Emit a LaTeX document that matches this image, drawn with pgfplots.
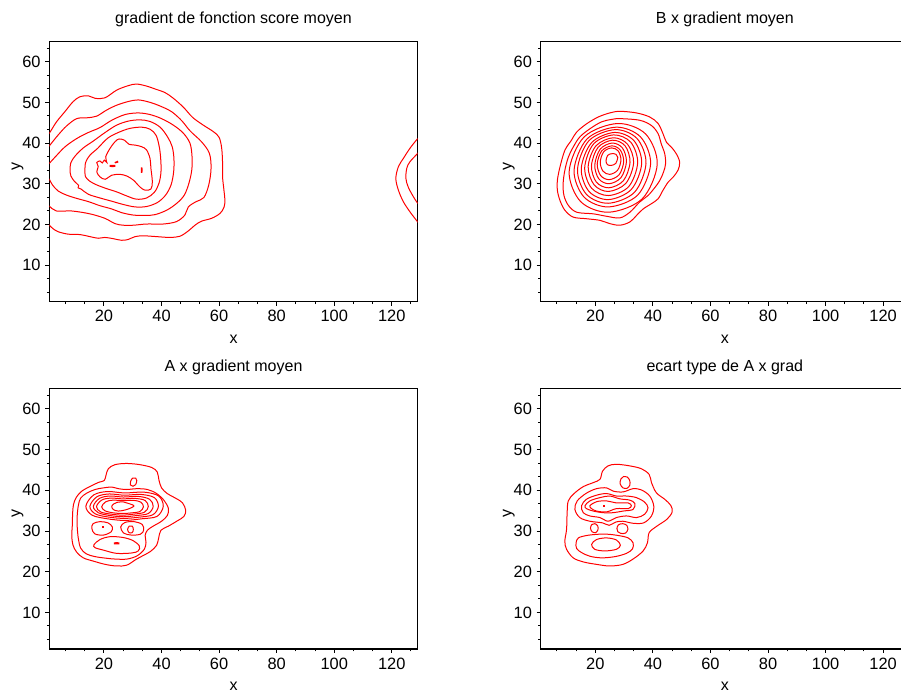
\documentclass[border=0pt]{standalone}
\usepackage{fontspec}
\setmainfont{Liberation Sans}
\usepackage{pgfplots}
\pgfplotsset{compat=1.18}

\pgfplotsset{
  every axis title/.style={at={(axis description cs:0.5,1.0666)}, anchor=base},
  panel/.style={
    scale only axis, width=276.3pt, height=195.3pt,
    anchor=south west,
    xmin=1, xmax=129, ymin=1, ymax=65,
    xtick={20,40,...,120}, ytick={10,20,...,60},
    minor xtick={6.667,13.333,26.667,33.333,46.667,53.333,66.667,73.333,86.667,93.333,106.667,113.333,126.667},
    minor ytick={3.333,6.667,13.333,16.667,23.333,26.667,33.333,36.667,43.333,46.667,53.333,56.667,63.333},
    tick pos=left, tick align=outside,
    major tick length=3pt, minor tick length=1.8pt,
    tick style={black, line width=0.75pt},
    axis line style={black, line width=0.85pt},
    /pgf/number format/assume math mode=true,
    ticklabel style={font=\fontsize{12.3}{14}\selectfont},
    xlabel={x}, ylabel={y},
    xlabel style={at={(axis description cs:0.5,-0.1434)}, anchor=center},
    ylabel style={at={(axis description cs:-0.0863,0.521)}, anchor=center},
    clip=true,
  },
  cl/.style={red, line width=0.75pt, smooth, tension=0.55},
  cc/.style={red, line width=0.75pt, smooth cycle, tension=0.55},
}

\begin{document}
\begin{tikzpicture}[font=\fontsize{12}{14}\selectfont]
\useasboundingbox (0,0) rectangle (675.75pt,523.5pt);

% ---------------- gradient de fonction score moyen ----------------
\begin{axis}[panel, at={(36.98pt,297.2pt)}, title={gradient de fonction score moyen}]
\addplot[cl] coordinates {(-0.5,41.0) (1,42.4) (3.5,45.2) (6.4,47.7) (9.3,50.2) (11.7,51.4) (14.6,51.6) (16.9,51.0) (20.3,51.1) (24.4,53.0) (28.4,54.1) (31.3,54.5) (34.8,54.0) (37.7,53.3) (41.2,52.4) (44.1,51.0) (47.6,48.8) (50.8,46.3) (54.5,44.4) (58.0,42.8) (60.0,41.4) (60.9,38.7) (61.2,35.0) (61.2,31.7) (61.6,28.9) (62.0,26.0) (61.7,24.2) (60.3,22.7) (57.4,21.5) (53.9,20.8) (51.6,19.8) (49.3,18.4) (46.4,17.1) (42.9,16.8) (38.3,17.0) (33.7,17.2) (30.8,17.0) (28.4,16.3) (26.1,16.1) (23.2,16.5) (20.3,16.8) (18.0,16.6) (15.1,17.0) (11.7,17.5) (7.6,17.6) (4.1,18.2) (2.4,18.9) (1,19.8) (-0.5,20.8)};
\addplot[cl] coordinates {(-0.5,38.0) (1,39.3) (4.1,42.0) (7.0,44.2) (10.5,46.0) (14.0,46.2) (17.4,46.6) (20.9,48.1) (24.4,49.3) (28.4,50.2) (31.9,50.6) (36.0,50.0) (39.5,49.1) (43.5,47.7) (47.0,45.5) (49.9,43.0) (53.9,40.3) (56.6,37.5) (57.2,33.8) (56.4,29.7) (54.7,26.6) (52.0,25.6) (49.3,24.3) (48.1,22.3) (45.2,20.7) (40.6,20.1) (34.8,20.1) (30.2,19.8) (26.7,19.8) (23.8,20.2) (20.3,21.5) (15.1,22.6) (8.8,23.3) (3.5,23.3) (1,24.5) (-0.5,25.5)};
\addplot[cl] coordinates {(-0.5,33.8) (1,35.0) (3.6,37.0) (6.5,39.1) (10.5,41.1) (14.6,42.6) (18.6,43.8) (22.7,45.6) (27.3,47.0) (31.9,47.4) (36.0,47.0) (40.0,46.0) (44.1,44.4) (47.6,42.4) (49.9,39.9) (50.6,36.6) (50.5,33.4) (49.5,30.1) (47.9,27.2) (45.3,25.2) (41.8,23.5) (37.7,22.4) (34.3,22.2) (30.2,22.3) (26.1,22.9) (22.7,23.8) (18.6,24.6) (14.6,25.6) (10.5,26.4) (7.0,27.2) (4.1,28.2) (2.1,29.7) (1,31.1) (-0.5,32.5)};
\addplot[cc] coordinates {(8.2,32.9) (8.5,35.2) (10.2,37.0) (12.8,38.8) (16.3,40.5) (20.4,42.6) (24.4,44.4) (28.5,45.4) (32.5,45.7) (36.0,45.3) (39.5,43.9) (42.1,41.5) (43.7,39.1) (44.3,36.2) (44.2,32.9) (43.3,29.7) (41.4,27.2) (38.6,25.4) (34.8,24.4) (30.8,24.3) (26.7,24.9) (22.7,25.7) (18.6,26.5) (14.6,27.4) (12.0,28.7) (11.0,29.0) (11.2,29.6) (9.7,30.6) (8.5,31.9)};
\addplot[cc] coordinates {(13.4,32.9) (13.6,35.2) (15.1,37.0) (17.8,38.7) (21.3,41.2) (25.0,42.6) (29.0,43.6) (33.1,43.9) (36.0,43.4) (38.1,41.9) (39.2,39.1) (39.7,36.2) (39.8,32.9) (39.1,30.1) (37.5,27.9) (34.8,26.5) (31.3,26.2) (27.9,27.0) (24.4,28.0) (20.9,28.8) (17.5,29.7) (15.1,30.6) (13.6,31.7)};
\addplot[cc] coordinates {(18.6,31.7) (17.5,32.9) (18.0,34.2) (17.5,35.2) (18.6,35.6) (19.4,35.1) (20.1,35.8) (21.0,35.2) (20.6,36.6) (22.1,38.7) (23.8,40.3) (25.2,41.0) (27.1,40.7) (28.7,39.7) (30.8,39.5) (33.1,39.1) (34.8,38.3) (36.0,36.2) (36.3,33.8) (36.8,30.5) (36.3,28.7) (34.3,28.4) (32.5,29.2) (30.2,30.9) (27.9,31.9) (25.6,32.3) (22.7,32.1) (20.4,31.1)};
\addplot[cc] coordinates {(22.1,34.5) (23.8,34.5) (23.8,34.25) (22.1,34.25)};
\addplot[cc] coordinates {(23.9,35.25) (24.7,35.5) (24.8,35.3) (24.0,35.15)};
\addplot[cc] coordinates {(33.0,33.9) (33.2,33.9) (33.2,32.8) (33.0,32.8)};
\addplot[cl] coordinates {(131,42.5) (129,41.1) (126.3,38.7) (124.0,36.2) (122.3,34.2) (121.4,31.3) (122.3,28.4) (124.0,25.6) (126.3,23.1) (129,20.6) (131,18.8)};
\addplot[cl] coordinates {(131,39.5) (129,37.5) (126.3,35.4) (125.2,33.8) (124.9,31.3) (125.7,29.2) (127.5,26.8) (129,25.2) (131,23.5)};
\end{axis}

% ---------------- B x gradient moyen ----------------
\begin{axis}[panel, at={(405.5pt,297.2pt)}, title={B x gradient moyen}]
\addplot[cc] coordinates {(28.5,47.8) (34.3,47.4) (38.9,46.4) (41.8,44.8) (43.5,42.3) (44.7,40.2) (46.4,39.0) (48.1,37.4) (49.3,35.3) (48.7,33.3) (47.0,31.6) (45.3,30.4) (43.5,28.4) (41.8,26.3) (39.5,25.1) (36.6,23.8) (34.3,22.2) (32.0,20.6) (28.5,19.8) (25.0,20.2) (21.6,21.0) (16.9,21.4) (12.3,21.8) (9.4,23.5) (7.7,25.9) (6.8,28.4) (6.8,30.8) (7.7,34.1) (9.4,38.2) (11.7,40.7) (13.5,42.7) (16.9,44.7) (21.0,46.4) (25.0,47.4)};
\addplot[cc] coordinates {(28.5,46.0) (35.4,45.6) (39.5,44.3) (41.8,42.3) (42.9,39.8) (44.1,37.4) (44.4,34.9) (43.7,32.9) (42.4,30.8) (40.6,29.0) (38.3,27.1) (35.4,25.5) (32.0,23.0) (28.5,21.6) (23.9,22.0) (19.3,22.6) (13.5,23.0) (10.6,24.7) (9.1,27.1) (8.8,30.0) (9.4,33.3) (10.6,36.5) (12.3,39.0) (14.6,41.5) (18.1,43.5) (22.1,45.2) (25.6,45.8)};
\addplot[cc] coordinates {(41.5,34.8) (37.5,42.2) (27.7,44.8) (16.1,41.5) (10.9,33.0) (14.9,25.6) (24.7,23.0) (36.3,26.3)};
\addplot[cc] coordinates {(39.2,34.9) (35.7,41.5) (27.2,43.9) (17.1,41.0) (12.6,33.3) (16.1,26.7) (24.6,24.3) (34.7,27.2)};
\addplot[cc] coordinates {(37.6,35.0) (34.5,41.1) (26.9,43.3) (17.8,40.6) (13.8,33.5) (16.9,27.4) (24.5,25.2) (33.6,27.9)};
\addplot[cc] coordinates {(36.1,35.0) (33.4,40.6) (26.65,42.6) (18.7,40.1) (15.1,33.7) (17.8,28.1) (24.55,26.1) (32.5,28.6)};
\addplot[cc] coordinates {(34.7,35.15) (32.3,40.2) (26.4,42.0) (19.4,39.8) (16.3,33.95) (18.7,28.9) (24.6,27.1) (31.6,29.3)};
\addplot[cc] coordinates {(33.3,35.2) (31.2,39.7) (26.2,41.3) (20.2,39.3) (17.5,34.2) (19.6,29.7) (24.6,28.1) (30.6,30.1)};
\addplot[cc] coordinates {(32.05,35.3) (30.35,39.3) (26.0,40.7) (20.95,38.95) (18.65,34.4) (20.35,30.4) (24.7,29.0) (29.75,30.75)};
\addplot[cc] coordinates {(30.8,35.4) (29.4,38.8) (25.85,40.0) (21.7,38.5) (19.8,34.6) (21.2,31.2) (24.75,30.0) (28.9,31.5)};
\addplot[cc] coordinates {(29.85,35.5) (28.65,38.3) (25.7,39.3) (22.2,38.05) (20.65,34.8) (21.85,32.0) (24.8,31.0) (28.3,32.25)};
\addplot[cc] coordinates {(28.9,35.8) (27.95,38.05) (25.65,38.8) (22.9,37.85) (21.7,35.3) (22.65,33.1) (24.95,32.3) (27.7,33.3)};
\addplot[cc] coordinates {(27.8,36.5) (27.2,37.2) (25.9,37.4) (24.3,37.0) (23.7,35.6) (24.2,34.7) (25.5,34.5) (27.1,35.0)};
\end{axis}

% ---------------- A x gradient moyen ----------------
\begin{axis}[panel, at={(36.98pt,36.75pt)}, title={A x gradient moyen}]
\addplot[cc] coordinates {(20.7,43.7) (21.5,45.3) (23.8,46.3) (27.9,46.6) (32.5,46.3) (36.6,45.6) (38.5,44.5) (39.1,42.5) (40.0,40.6) (42.0,39.2) (45.3,37.9) (47.3,36.9) (48.4,35.1) (47.8,33.6) (45.5,32.5) (42.4,31.2) (39.8,30.2) (39.0,28.3) (38.3,26.5) (36.2,25.0) (33.7,24.0) (31.1,23.0) (27.9,21.6) (24.4,21.4) (20.4,21.8) (16.3,22.6) (12.8,23.4) (10.5,24.8) (9.2,26.6) (8.8,28.9) (9.0,31.4) (9.1,34.3) (9.4,36.5) (10.4,38.3) (12.3,39.8) (15.3,41.0) (18.3,42.0) (20.1,42.4)};
\addplot[cc] coordinates {(11.9,38.1) (14.0,39.3) (16.9,40.2) (19.8,40.6) (22.7,40.8) (25.0,40.4) (27.9,40.2) (31.4,40.4) (35.1,40.2) (38.3,39.2) (40.9,37.5) (42.4,35.5) (42.0,33.8) (40.0,32.4) (37.1,31.2) (35.1,30.2) (34.3,28.9) (34.6,27.2) (34.0,25.5) (31.5,23.9) (28.0,23.1) (24.0,23.1) (20.9,23.3) (16.9,23.7) (13.8,24.4) (11.9,25.8) (11.1,28.1) (10.7,31.0) (10.7,33.8) (11.1,36.3)};
\addplot[cc] coordinates {(13.7,36.1) (16.4,38.85) (21.2,39.7) (27.15,39.35) (33.9,39.55) (39.0,38.6) (40.6,36.1) (38.45,33.6) (33.1,33.0) (27.15,32.6) (21.2,33.0) (15.85,33.9)};
\addplot[cc] coordinates {(15.1,36.05) (17.5,38.4) (21.8,39.1) (27.0,38.8) (32.95,38.98) (37.5,38.2) (38.9,36.05) (37.0,34.0) (32.2,33.4) (27.0,33.1) (21.8,33.4) (17.0,34.2)};
\addplot[cc] coordinates {(16.3,36.05) (18.4,38.0) (22.1,38.6) (26.7,38.35) (31.9,38.5) (35.85,37.8) (37.1,36.05) (35.4,34.3) (31.3,33.8) (26.7,33.5) (22.1,33.8) (18.0,34.5)};
\addplot[cc] coordinates {(17.4,36.0) (19.2,37.6) (22.4,38.1) (26.4,37.9) (30.9,38.0) (34.3,37.5) (35.4,36.0) (34.0,34.6) (30.4,34.15) (26.4,33.9) (22.4,34.15) (18.8,34.7)};
\addplot[cc] coordinates {(19.2,35.95) (20.65,37.2) (23.3,37.6) (26.45,37.45) (30.1,37.55) (32.8,37.1) (33.7,35.95) (32.5,34.8) (29.6,34.45) (26.45,34.3) (23.3,34.45) (20.4,34.95)};
\addplot[cc] coordinates {(22.7,36.1) (23.5,36.7) (24.6,37.05) (26.7,37.15) (28.4,36.8) (30.4,36.15) (28.0,35.3) (25.0,34.9) (23.2,35.3)};
\addplot[cc] coordinates {(29.2,41.3) (29.3,42.3) (30.0,43.0) (31.0,43.0) (31.4,42.4) (31.0,41.4) (30.1,41.0)};
\addplot[cc] coordinates {(15.8,30.6) (16.2,31.8) (18.6,32.3) (21.4,32.0) (22.9,31.0) (22.5,29.8) (19.8,29.0) (16.8,29.3)};
\addplot[cc] coordinates {(19.5,31.1) (20.0,31.1) (20.0,30.8) (19.5,30.8)};
\addplot[cc] coordinates {(25.8,31.0) (27.3,32.1) (30.5,32.3) (33.3,31.6) (33.8,30.2) (32.6,29.2) (29.5,29.0) (26.8,29.5)};
\addplot[cc] coordinates {(28.2,30.4) (28.8,31.2) (29.8,31.2) (30.2,30.4) (29.8,29.6) (28.7,29.6)};
\addplot[cc] coordinates {(16.5,26.6) (18.6,27.9) (22.1,28.6) (26.7,28.4) (30.2,27.6) (32.3,26.3) (31.9,25.1) (29.6,24.6) (24.4,24.5) (19.8,25.3) (16.9,25.9)};
\addplot[cc] coordinates {(23.6,27.1) (25.2,27.1) (25.2,26.85) (23.6,26.85)};
\end{axis}

% ---------------- ecart type de A x grad ----------------
\begin{axis}[panel, at={(405.5pt,36.75pt)}, title={ecart type de A x grad}]
\addplot[cc] coordinates {(21.6,42.7) (22.5,44.7) (24.4,46.0) (27.3,46.4) (32.0,46.0) (36.0,45.3) (38.7,43.9) (39.5,41.9) (41.2,39.4) (44.1,37.8) (46.2,36.3) (46.7,34.7) (44.9,32.9) (41.4,31.2) (38.7,29.6) (38.1,27.1) (36.6,25.1) (33.3,23.2) (29.6,21.8) (25.0,21.4) (20.4,21.8) (15.8,22.4) (12.3,23.4) (10.0,25.5) (9.4,27.5) (10.0,30.4) (10.2,34.5) (10.6,37.4) (12.6,39.2) (15.8,40.9) (19.3,41.9)};
\addplot[cc] coordinates {(12.9,35.3) (13.7,37.4) (16.9,39.3) (20.4,40.4) (23.9,40.6) (26.2,39.8) (29.6,39.6) (33.1,40.4) (36.0,40.1) (38.9,38.6) (40.3,36.1) (39.5,33.7) (36.8,32.0) (33.1,31.9) (29.6,32.4) (27.1,32.2) (24.8,31.4) (22.5,32.0) (18.1,32.4) (14.6,33.3)};
\addplot[cc] coordinates {(15.2,36.2) (16.9,37.8) (20.4,38.8) (23.9,39.2) (27.3,38.6) (30.8,38.6) (34.3,38.2) (37.1,37.1) (38.3,35.7) (37.1,34.1) (34.3,33.3) (30.8,33.7) (27.3,33.3) (24.4,32.4) (21.6,33.3) (18.1,33.7) (15.8,34.5)};
\addplot[cc] coordinates {(16.4,36.2) (18.1,37.4) (21.6,38.2) (25.0,38.6) (28.5,37.9) (31.9,37.6) (33.7,36.8) (33.1,35.3) (29.6,34.9) (26.2,34.5) (22.7,34.5) (19.3,34.9) (16.9,35.5)};
\addplot[cc] coordinates {(18.1,36.2) (20.4,37.2) (23.9,37.4) (27.3,36.9) (31.4,36.9) (32.5,36.2) (31.4,35.5) (27.3,35.5) (23.9,34.7) (20.4,34.9) (18.7,35.5)};
\addplot[cc] coordinates {(22.9,36.3) (23.2,36.3) (23.2,36.1) (22.9,36.1)};
\addplot[cc] coordinates {(28.6,41.6) (28.9,42.8) (29.8,43.4) (31.0,43.3) (31.9,42.5) (32.0,41.3) (31.0,40.5) (29.6,40.6)};
\addplot[cc] coordinates {(18.3,30.7) (18.8,31.6) (19.8,31.8) (20.8,31.3) (20.9,30.3) (20.1,29.6) (18.9,29.8)};
\addplot[cc] coordinates {(27.5,30.6) (28.0,31.5) (29.5,31.8) (30.9,31.4) (31.3,30.4) (30.5,29.5) (28.9,29.4) (27.8,29.8)};
\addplot[cc] coordinates {(13.3,27.1) (14.1,28.3) (17.0,28.9) (21.0,29.2) (24.4,29.2) (27.9,28.9) (31.4,28.3) (33.1,27.1) (32.9,25.6) (30.8,24.5) (26.8,23.7) (22.1,23.4) (18.1,23.8) (15.2,24.7) (13.5,25.7)};
\addplot[cc] coordinates {(18.7,26.7) (20.4,27.9) (23.9,28.3) (27.3,27.8) (28.7,26.5) (27.3,25.5) (23.3,25.1) (19.8,25.5)};
\end{axis}
\end{tikzpicture}
\end{document}
